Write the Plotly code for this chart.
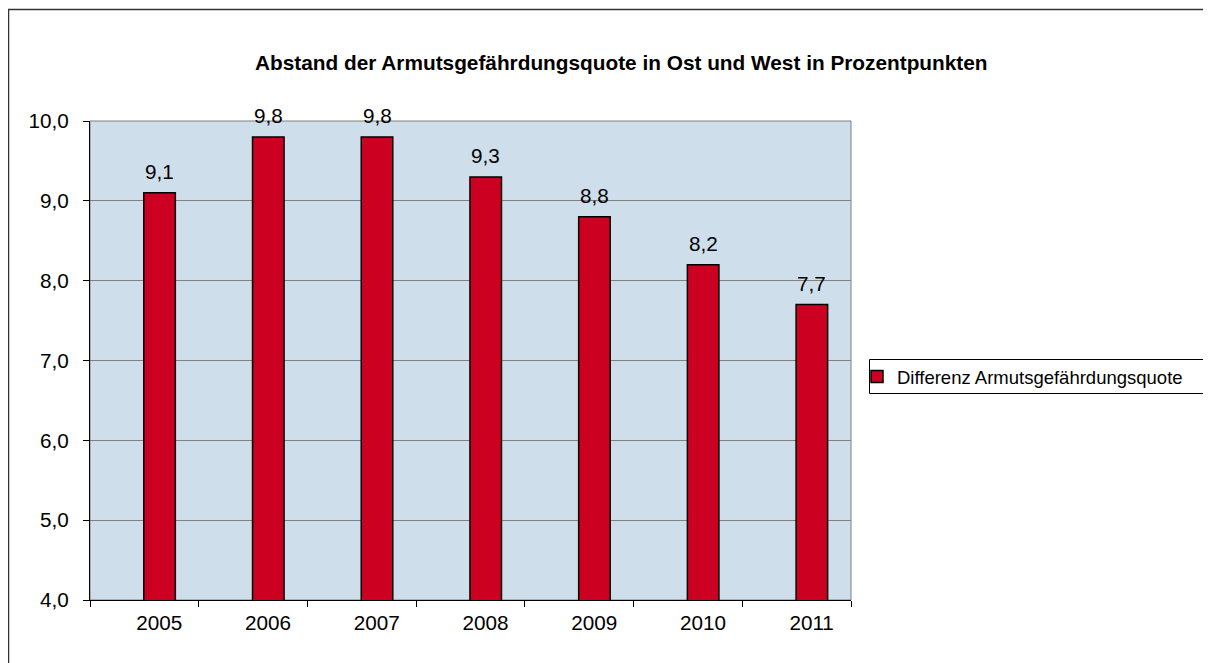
import plotly.graph_objects as go

years = ["2005", "2006", "2007", "2008", "2009", "2010", "2011"]
values = [9.1, 9.8, 9.8, 9.3, 8.8, 8.2, 7.7]
series_name = "Differenz Armutsgefährdungsquote"
title_text = "Abstand der Armutsgefährdungsquote in Ost und West in Prozentpunkten"
y_ticks = [4, 5, 6, 7, 8, 9, 10]

# page body has an 8px default margin; work in screen px and convert
OFF = 8
W, H = 1211 - OFF, 663 - OFF
L, R, T, B = 90 - OFF, 851 - OFF, 121 - OFF, 600 - OFF
FONT = "Liberation Sans, Arial, sans-serif"
FS = 20.7
BAR_W = 0.29
SHIFT = 0.14  # bars and labels sit a bit right of the category centre

def px(x):
    return (x - OFF - L) / (R - L)

def py(y):
    return (B - (y - OFF)) / (B - T)

fig = go.Figure()
fig.add_trace(go.Bar(
    x=years, y=values, name=series_name,
    marker=dict(color="#CC0020", line=dict(color="black", width=1.5)),
    width=BAR_W, offset=SHIFT - BAR_W / 2,
))

annotations = [dict(text="<b>" + title_text + "</b>", xref="paper", yref="paper",
                    x=px(621), y=py(62), xanchor="center", yanchor="middle",
                    showarrow=False, font=dict(family=FONT, size=20.8, color="black"))]
for i, v in enumerate(values):
    annotations.append(dict(x=i + SHIFT, y=v, xref="x", yref="y",
                            text=f"{v:.1f}".replace(".", ","),
                            showarrow=False, yanchor="bottom", xanchor="center", yshift=8,
                            font=dict(family=FONT, size=FS, color="black")))

fig.update_layout(
    width=W, height=H,
    margin=dict(l=L, r=W - R, t=T, b=H - B),
    paper_bgcolor="white", plot_bgcolor="#CEDEEB",
    separators=",.",
    font=dict(family=FONT, size=FS, color="black"),
    showlegend=True,
    legend=dict(x=px(857), y=py(377), xanchor="left", yanchor="middle",
                bgcolor="rgba(0,0,0,0)", borderwidth=0,
                font=dict(family=FONT, size=18.5, color="black"),
                itemwidth=30),
    xaxis=dict(type="category", range=[-0.5, len(years) - 0.5], tickson="boundaries",
               ticks="outside", ticklen=6, tickangle=0,
               tickcolor="black", showline=True, linecolor="black", linewidth=1,
               showgrid=False, tickfont=dict(size=FS), ticklabelstandoff=4,
               ticklabelshift=15),
    yaxis=dict(range=[4, 10], tickvals=y_ticks, tickformat=".1f", ticks="outside",
               ticklen=6, tickcolor="black", showline=True, linecolor="black",
               linewidth=1, showgrid=True, gridcolor="#808080", gridwidth=1,
               zeroline=False, tickfont=dict(size=FS), ticklabelstandoff=10),
    annotations=annotations,
    shapes=[
        dict(type="rect", xref="paper", yref="paper", x0=0, x1=1, y0=0, y1=1,
             line=dict(color="#808080", width=1), layer="below"),
        dict(type="rect", xref="paper", yref="paper", x0=px(8.5), x1=px(1240),
             y0=py(690), y1=py(9.5), line=dict(color="#333333", width=1.5)),
        dict(type="rect", xref="paper", yref="paper", x0=px(869.5), x1=px(1240),
             y0=py(393.5), y1=py(359.5), line=dict(color="black", width=1)),
    ],
)

fig.write_html("out.html")
